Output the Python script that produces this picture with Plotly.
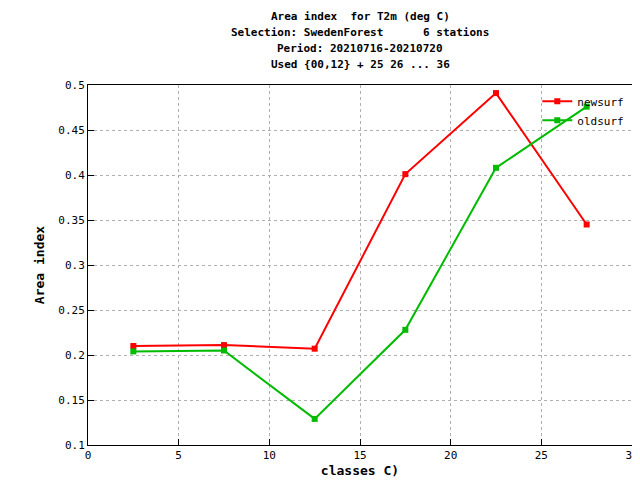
import plotly.graph_objects as go

classes = [2.5, 7.5, 12.5, 17.5, 22.5, 27.5]
newsurf = [0.210, 0.211, 0.207, 0.401, 0.491, 0.345]
oldsurf = [0.204, 0.205, 0.129, 0.228, 0.408, 0.476]
title_lines = ["Area index  for T2m (deg C)",
               "Selection: SwedenForest      6 stations",
               "Period: 20210716-20210720",
               "Used {00,12} + 25 26 ... 36"]

font = dict(family="DejaVu Sans Mono", size=11, color="black")
fig = go.Figure()
fig.add_trace(go.Scatter(x=classes, y=newsurf, name="newsurf", mode="lines+markers",
                         line=dict(color="#ff0000", width=2), marker=dict(symbol="square", size=6)))
fig.add_trace(go.Scatter(x=classes, y=oldsurf, name="oldsurf", mode="lines+markers",
                         line=dict(color="#00bb00", width=2), marker=dict(symbol="square", size=6)))
for i, line in enumerate(title_lines):
    fig.add_annotation(xref="paper", yref="paper", x=0.5, y=1, yshift=60 - 16 * i,
                       text="<b>" + line + "</b>", showarrow=False, font=font,
                       xanchor="center", yanchor="bottom")
axis = dict(showline=True, linecolor="black", mirror=True, ticks="inside", ticklen=6,
            tickcolor="black", showgrid=True, gridcolor="#b0b0b0", griddash="dot",
            zeroline=False, tickfont=font, automargin=False)
fig.update_layout(
    width=640, height=480, plot_bgcolor="white", paper_bgcolor="white", font=font,
    margin=dict(l=80, r=16, t=77, b=43),
    xaxis=dict(axis, range=[0, 30], dtick=5, title=dict(text="<b>classes C)</b>", standoff=4)),
    yaxis=dict(axis, range=[0.1, 0.5], dtick=0.05, tickformat="~g",
               title=dict(text="<b>Area index</b>", standoff=10)),
    legend=dict(x=0.995, y=0.995, xanchor="right", yanchor="top", bgcolor="rgba(0,0,0,0)",
                font=dict(font, size=11), tracegroupgap=0),
    showlegend=True,
)
fig.write_html("out.html")
